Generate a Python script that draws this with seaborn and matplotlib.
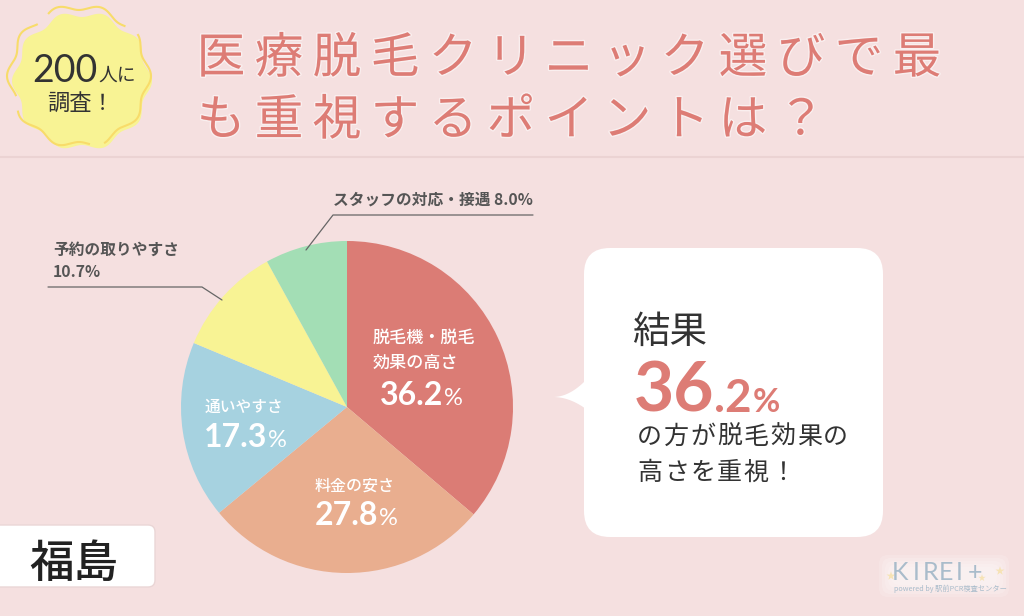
import numpy as np
import matplotlib
matplotlib.use('Agg')
import matplotlib.pyplot as plt
import matplotlib.patheffects as pe
from matplotlib.patches import FancyBboxPatch, Polygon
import seaborn as sns

# data
categories = ['脱毛機・脱毛効果の高さ', '料金の安さ', '通いやすさ', '予約の取りやすさ', 'スタッフの対応・接遇']
values = [36.2, 27.8, 17.3, 10.7, 8.0]
colors = ['#DB7C75', '#E9AE8F', '#A6D2E0', '#F8F394', '#A3DEB5']
title_lines = ['医療脱毛クリニック選びで最', 'も重視するポイントは？']

BG = '#F5E0E0'
DARK = '#333333'
GREY = '#555555'
PINK = '#DD7C75'
JP = ['Noto Sans CJK JP', 'DejaVu Sans']
NUM = ['Lato', 'DejaVu Sans']

sns.set_theme(style='white', palette=sns.color_palette(colors))
plt.rcParams['font.family'] = JP

fig = plt.figure(figsize=(10.24, 6.16), dpi=100, facecolor=BG)
ax = fig.add_axes([0, 0, 1, 1])

# pie, y axis is flipped below so it runs clockwise from the top
ax.pie(values, colors=sns.color_palette(), center=(347, 407), radius=166,
       startangle=-90, counterclock=True, wedgeprops={'linewidth': 0})
ax.set_aspect('auto')
ax.set_xlim(0, 1024)
ax.set_ylim(616, 0)
ax.axis('off')


def pct(x_right, y, value):
    # white number on a slice, x_right is where the number ends, y is the baseline
    ax.text(x_right + 1, y, '%', family=NUM, fontsize=17, color='white', ha='left', va='baseline')
    ax.text(x_right, y, f'{value:.1f}', family=NUM, fontsize=23, fontweight='bold',
            color='white', ha='right', va='baseline')


# header
ax.plot([0, 1024], [157, 157], color='#EBD3D3', lw=1.5)
for line, y in zip(title_lines, [59, 121]):
    for i, ch in enumerate(line):
        ax.text(221 + i * 58, y, ch, fontsize=35, color=PINK, ha='center', va='center',
                path_effects=[pe.withStroke(linewidth=2, foreground='#FFFFFF', alpha=0.5)])

# badge
t = np.linspace(0, 2 * np.pi, 400)
r = 67 + 3 * np.cos(10 * t)
ax.add_patch(Polygon(np.c_[82 + r * np.cos(t), 81 + r * np.sin(t)], closed=True, fc='#F8F394', ec='none'))
r2 = 69 + 3 * np.cos(10 * t)
ax.plot(79 + r2 * np.cos(t), 76 + r2 * np.sin(t), color='#F8DC6A', lw=1.5, ls=(0, (42, 7)))
ax.text(97, 82, '200', family=NUM, fontsize=27, color=DARK, ha='right', va='baseline')
ax.text(98, 75, '人に', fontsize=13.5, color=DARK, ha='left', va='center')
ax.text(81, 103, '調査！', fontsize=16, color=DARK, ha='center', va='center')

# slice labels
ax.text(373, 338, '脱毛機・脱毛', fontsize=12.3, fontweight='medium', color='white', va='center')
ax.text(373, 363, '効果の高さ', fontsize=12.3, fontweight='medium', color='white', va='center')
pct(443, 405, values[0])
ax.text(355, 486, categories[1], fontsize=11.5, fontweight='medium', color='white', ha='center', va='center')
pct(378, 525, values[1])
ax.text(205, 407, categories[2], fontsize=11.3, fontweight='medium', color='white', va='center')
pct(267, 447, values[2])

# outside labels with leader lines
ax.text(333, 200, f'{categories[4]} {values[4]:.1f}%', fontsize=11.3, fontweight='bold', color=GREY, va='center')
ax.plot([533, 333, 306], [215, 215, 250], color='#666666', lw=0.9)
ax.text(53, 250, categories[3], fontsize=11.3, fontweight='bold', color=GREY, va='center')
ax.text(53, 272, f'{values[3]:.1f}%', fontsize=11.3, fontweight='bold', color=GREY, va='center')
ax.plot([48, 202, 222], [287, 287, 300], color='#666666', lw=0.9)

# callout bubble
ax.add_patch(FancyBboxPatch((584, 248), 299, 289, boxstyle='round,pad=0,rounding_size=26', fc='white', ec='none'))
tail_t = np.linspace(0, 1, 30)
tail_top = np.c_[553 + 33 * tail_t, 397 - 17 * tail_t ** 2]
tail_bot = np.c_[553 + 33 * tail_t[::-1], 397 + 12 * tail_t[::-1] ** 2]
ax.add_patch(Polygon(np.r_[tail_top, tail_bot], closed=True, fc='white', ec='none'))
ax.text(632, 332, '結果', fontsize=27, color=DARK, va='center')
whole, dec = f'{values[0]:.1f}'.split('.')
ax.text(714, 412, whole, family=NUM, fontsize=50, fontweight='bold', color=PINK, ha='right', va='baseline')
ax.text(752, 412, '.' + dec, family=NUM, fontsize=33, fontweight='bold', color=PINK, ha='right', va='baseline')
ax.text(753, 412, '%', family=NUM, fontsize=24, fontweight='bold', color=PINK, ha='left', va='baseline')
for line, y in zip(['の方が脱毛効果の', '高さを重視！'], [437, 473]):
    for i, ch in enumerate(line):
        ax.text(637 + i * 26.6, y, ch, fontsize=18, color=DARK, va='center')

# prefecture tag
ax.add_patch(FancyBboxPatch((-10, 525), 165, 62, boxstyle='round,pad=0,rounding_size=7', fc='white', ec='#EAD6D6', lw=1))
ax.text(74, 564, '福島', fontsize=32, fontweight='medium', color='#222222', ha='center', va='center')

# logo
for pad in [-3, 0, 3, 6, 9]:
    ax.add_patch(FancyBboxPatch((888 - pad, 564 - pad), 112 + 2 * pad, 24 + 2 * pad,
                                boxstyle='round,pad=0,rounding_size=9', fc='white', ec='none', alpha=0.16))
for i, ch in enumerate('KIREI+'):
    ax.text([900, 916, 931, 946, 959, 975][i], 573, ch, family=NUM, fontsize=18, color='#A9BCCB',
            ha='center', va='center')
ax.text(894, 589, 'powered by 駅前PCR検査センター', fontsize=5.2, color='#A9BCCB', va='center')
ax.scatter([891, 982, 1000], [576, 578, 571], marker='*', s=[45, 30, 45], color='#F6E3B5', linewidths=0)

fig.savefig('out.png', dpi=100, facecolor=BG)
